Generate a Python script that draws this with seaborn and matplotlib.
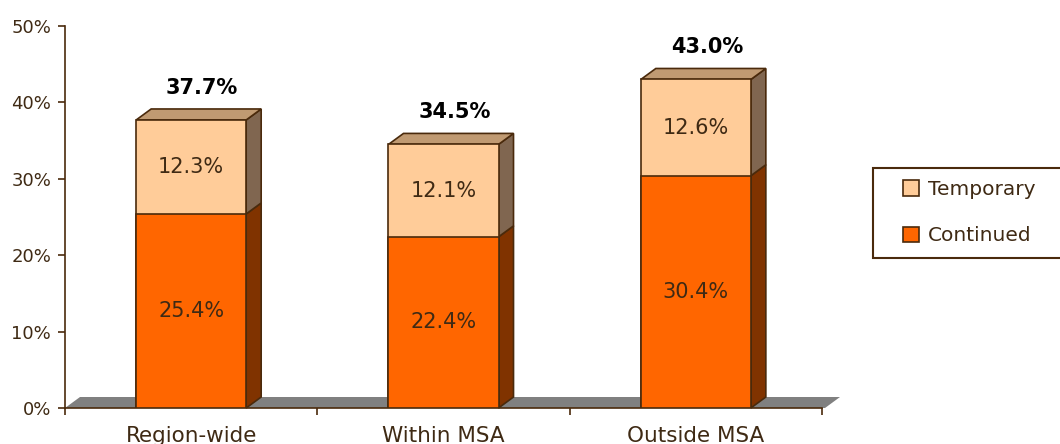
import matplotlib
matplotlib.use("Agg")
import matplotlib.pyplot as plt
import seaborn as sns
import pandas as pd
from matplotlib.patches import Polygon, Patch, Rectangle

# ---- data ----
categories = ["Region-wide", "Within MSA", "Outside MSA"]
continued = [25.4, 22.4, 30.4]
temporary = [12.3, 12.1, 12.6]
totals = [37.7, 34.5, 43.0]
y_ticks = [0, 10, 20, 30, 40, 50]

# ---- style ----
C_CONT = "#FF6600"
C_CONT_SIDE = "#803300"
C_TEMP = "#FFCC99"
C_TEMP_SIDE = "#806650"
C_TEMP_TOP = "#C09A72"
C_EDGE = "#4A2A0C"
C_TEXT = "#3F2A14"
FLOOR = "#808080"

sns.set_theme(style="white")
plt.rcParams["font.family"] = ["DejaVu Sans"]

fig = plt.figure(figsize=(10.6, 4.44), dpi=100)
ax = fig.add_axes([65 / 1060, 36 / 444, 757 / 1060, 382 / 444])

df = pd.DataFrame({"cat": categories, "cont": continued, "tot": totals, "temp": temporary})
W = 0.436
sns.barplot(data=df, x="cat", y="tot", color=C_TEMP, width=W, saturation=1,
            edgecolor=C_EDGE, linewidth=1.2, ax=ax, zorder=3)
temp_bars = list(ax.patches)
sns.barplot(data=df, x="cat", y="cont", color=C_CONT, width=W, saturation=1,
            edgecolor=C_EDGE, linewidth=1.2, ax=ax, zorder=3)
cont_bars = [p for p in ax.patches if p not in temp_bars]

ax.set_xlim(-0.5, 2.5)
ax.set_ylim(0, 50)

# depth offsets in data units (15 px, 11 px)
px_x = 3.0 / 757
px_y = 50.0 / 382
DX = 15 * px_x
DY = 11 * px_y

# floor
floor = Polygon([(-0.5, 0), (2.5 + 3 * px_x, 0), (2.5 + 3 * px_x + DX, DY),
                 (-0.5 + DX, DY)], closed=True, facecolor=FLOOR, edgecolor="none",
                zorder=1, clip_on=False)
ax.add_patch(floor)

# 3D faces from the bar patches
for tb, cb in zip(temp_bars, cont_bars):
    x0 = tb.get_x()
    x1 = x0 + tb.get_width()
    ht = tb.get_height()
    hc = cb.get_height()
    ax.add_patch(Polygon([(x1, 0), (x1, hc), (x1 + DX, hc + DY), (x1 + DX, DY)],
                         closed=True, facecolor=C_CONT_SIDE, edgecolor=C_EDGE,
                         linewidth=1.2, zorder=2.5, clip_on=False))
    ax.add_patch(Polygon([(x1, hc), (x1, ht), (x1 + DX, ht + DY), (x1 + DX, hc + DY)],
                         closed=True, facecolor=C_TEMP_SIDE, edgecolor=C_EDGE,
                         linewidth=1.2, zorder=2.5, clip_on=False))
    ax.add_patch(Polygon([(x0, ht), (x1, ht), (x1 + DX, ht + DY), (x0 + DX, ht + DY)],
                         closed=True, facecolor=C_TEMP_TOP, edgecolor=C_EDGE,
                         linewidth=1.2, zorder=2.5, clip_on=False))
    cx = (x0 + x1) / 2
    ax.text(cx, hc / 2, f"{hc:.1f}%", ha="center", va="center", fontsize=15,
            color=C_TEXT, zorder=5)
    ax.text(cx, hc + (ht - hc) / 2, f"{ht - hc:.1f}%", ha="center", va="center",
            fontsize=15, color=C_TEXT, zorder=5)
    ax.annotate(f"{ht:.1f}%", xy=(cx, ht), xytext=(11, 22), textcoords="offset pixels",
                ha="center", va="bottom", fontsize=15, fontweight="bold",
                color="black", zorder=5, annotation_clip=False)

# axes styling
for s in ["top", "right"]:
    ax.spines[s].set_visible(False)
for s in ["left", "bottom"]:
    ax.spines[s].set_color(C_EDGE)
    ax.spines[s].set_linewidth(1.2)
ax.spines["left"].set_zorder(4)
ax.set_yticks(y_ticks)
ax.set_yticklabels([f"{v}%" for v in y_ticks])
ax.set_xticks([-0.5, 0.5, 1.5, 2.5], minor=False)
ax.set_xticklabels([])
ax.set_xticks([0, 1, 2], minor=True)
ax.set_xticklabels(categories, minor=True)
ax.tick_params(axis="y", which="major", direction="out", length=5, width=1.2,
               color=C_EDGE, labelcolor=C_TEXT, labelsize=13, pad=5, left=True)
ax.tick_params(axis="x", which="major", direction="out", length=5, width=1.2,
               color=C_EDGE, bottom=True)
ax.tick_params(axis="x", which="minor", length=0, labelcolor=C_TEXT, labelsize=15.5, pad=13)
ax.set_xlabel("")
ax.set_ylabel("")

# legend box (extends past the right edge as in the reference)
fig.patches.append(Rectangle((873 / 1060, 1 - 258 / 444), 200 / 1060, 90 / 444,
                             transform=fig.transFigure, facecolor="white",
                             edgecolor=C_EDGE, linewidth=1.5, clip_on=False, zorder=0))
handles = [Patch(facecolor=C_TEMP, edgecolor=C_EDGE, linewidth=1.2, label="Temporary"),
           Patch(facecolor=C_CONT, edgecolor=C_EDGE, linewidth=1.2, label="Continued")]
leg = fig.legend(handles=handles, loc="upper left", bbox_to_anchor=(903 / 1060, 1 - 180 / 444),
                 frameon=False, fontsize=14.5, handlelength=0.8,
                 handleheight=0.8, handletextpad=0.45, labelspacing=1.36,
                 borderpad=0, borderaxespad=0, labelcolor=C_TEXT)

fig.savefig("out.png", dpi=100, facecolor="white")
